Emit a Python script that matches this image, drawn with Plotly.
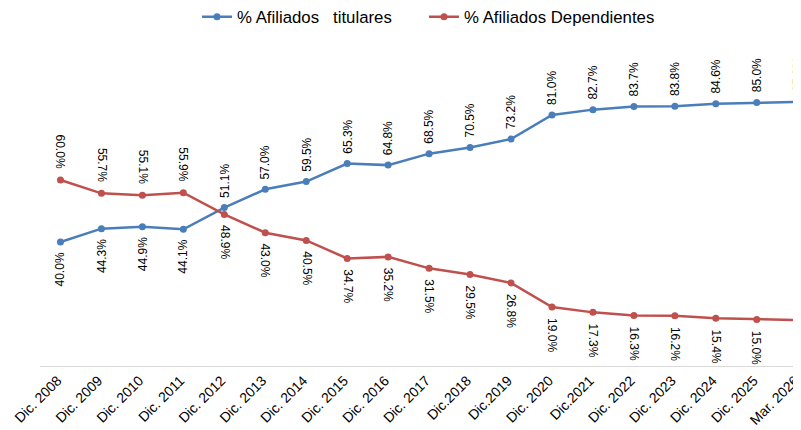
import plotly.graph_objects as go

categories = ["Dic. 2008", "Dic. 2009", "Dic. 2010", "Dic. 2011", "Dic. 2012", "Dic. 2013",
              "Dic. 2014", "Dic. 2015", "Dic. 2016", "Dic. 2017", "Dic.2018", "Dic.2019",
              "Dic. 2020", "Dic.2021", "Dic. 2022", "Dic. 2023", "Dic. 2024", "Dic. 2025",
              "Mar. 2026"]
titulares = [40.0, 44.3, 44.9, 44.1, 51.1, 57.0, 59.5, 65.3, 64.8, 68.5, 70.5, 73.2,
             81.0, 82.7, 83.7, 83.8, 84.6, 85.0, 85.2]
dependientes = [60.0, 55.7, 55.1, 55.9, 48.9, 43.0, 40.5, 34.7, 35.2, 31.5, 29.5, 26.8,
                19.0, 17.3, 16.3, 16.2, 15.4, 15.0, 14.8]
name_t = "% Afiliados   titulares"
name_d = "% Afiliados Dependientes"

BLUE = "#4A7EBB"
RED = "#C0504D"
FONT = "Liberation Sans, Arial, sans-serif"

xs = list(range(len(categories)))

fig = go.Figure()
fig.add_trace(go.Scatter(x=xs, y=titulares, mode="lines+markers", name=name_t,
                         line=dict(color=BLUE, width=2.5),
                         marker=dict(color=BLUE, size=7), cliponaxis=False,
                         legend="legend"))
fig.add_trace(go.Scatter(x=xs, y=dependientes, mode="lines+markers", name=name_d,
                         line=dict(color=RED, width=2.5),
                         marker=dict(color=RED, size=7), cliponaxis=False,
                         legend="legend2"))

annotations = []
for i, (t, d) in enumerate(zip(titulares, dependientes)):
    t_above = t >= d
    annotations.append(dict(x=i, y=t, xref="x", yref="y", text=f"{t:.1f}%",
                            showarrow=False, textangle=-90,
                            yanchor="bottom" if t_above else "top",
                            yshift=8 if t_above else -8,
                            font=dict(family=FONT, size=12, color="#000000")))
    annotations.append(dict(x=i, y=d, xref="x", yref="y", text=f"{d:.1f}%",
                            showarrow=False, textangle=90,
                            yanchor="bottom" if not t_above else "top",
                            yshift=9 if not t_above else -9,
                            font=dict(family=FONT, size=12, color="#000000")))

legend_font = dict(family=FONT, size=16.8, color="#000000")
fig.update_layout(
    width=793, height=422,
    margin=dict(l=32, r=0, t=48, b=64, autoexpand=False),
    paper_bgcolor="white", plot_bgcolor="white",
    font=dict(family=FONT, color="#000000"),
    showlegend=True,
    legend=dict(orientation="h", x=0.2063, xanchor="left", y=1.126, yanchor="middle",
                font=legend_font, itemwidth=30),
    legend2=dict(orientation="h", x=0.5046, xanchor="left", y=1.126, yanchor="middle",
                 font=legend_font, itemwidth=30),
    annotations=annotations,
    xaxis=dict(tickmode="array", tickvals=xs, ticktext=categories,
               range=[-0.5, 18.08], tickangle=-45, automargin=False,
               ticklabeloverflow="allow", ticklabelshift=-3,
               tickfont=dict(family=FONT, size=14, color="#000000"),
               showgrid=False, zeroline=False, showline=True,
               linecolor="#D9D9D9", linewidth=1, ticks=""),
    yaxis=dict(range=[0, 100], visible=False, showgrid=False, zeroline=False,
               automargin=False),
)

fig.write_html("out.html")
